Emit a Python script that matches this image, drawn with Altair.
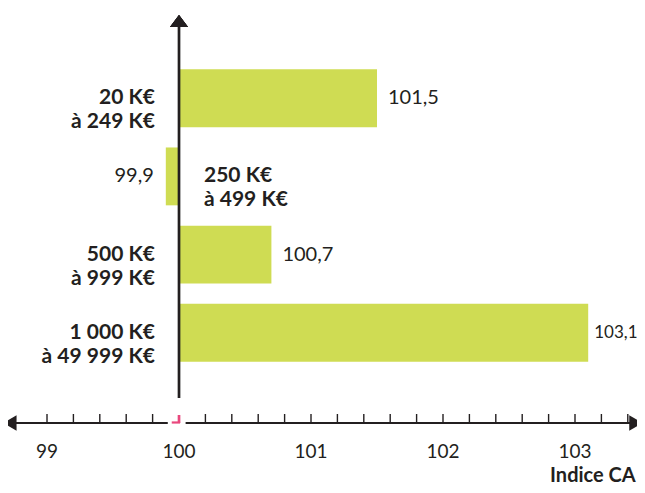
import altair as alt
import pandas as pd

# ---- data ----
categories = ["20 K€\nà 249 K€", "250 K€\nà 499 K€", "500 K€\nà 999 K€", "1 000 K€\nà 49 999 K€"]
values = [101.5, 99.9, 100.7, 103.1]
value_labels = ["101,5", "99,9", "100,7", "103,1"]
base_value = 100
tick_labels = [99, 100, 101, 102, 103]
tick_label_texts = ["99", "100", "101", "102", "103"]
minor_ticks = [99.0, 99.2, 99.4, 99.6, 99.8, 100.2, 100.4, 100.6, 100.8, 101.0,
               101.2, 101.4, 101.6, 101.8, 102.0, 102.2, 102.4, 102.6, 102.8,
               103.0, 103.2, 103.4]
axis_title = "Indice CA"
axis_min, axis_max = 98.72, 103.46
break_left, break_right = 99.915, 100.05

FONT = "Lato"
TXT = "#231f20"
BAR = "#cfdc53"
PINK = "#e9487d"

df = pd.DataFrame({"cat": categories, "value": values, "label": value_labels})

xscale = alt.Scale(domain=[98.7045, 103.4697], nice=False, zero=False)
yscale = alt.Scale(paddingInner=0.26, paddingOuter=0.7835)

ycat = alt.Y("cat:N", sort=categories, scale=yscale, axis=None)


def xd(v):
    return alt.XDatum(v, scale=xscale, axis=None)


bars = alt.Chart(df).mark_bar(color=BAR).encode(
    y=ycat,
    x=alt.X("value:Q", scale=xscale, axis=None),
    x2=alt.X2Datum(base_value),
)

val_pos = alt.Chart(df).transform_filter("datum.value >= 100 && datum.value < 103").mark_text(
    align="left", baseline="middle", dx=11, font=FONT, fontSize=20, color=TXT
).encode(y=ycat, x=alt.X("value:Q", scale=xscale, axis=None), text="label:N")

val_edge = alt.Chart(df).transform_filter("datum.value >= 103").mark_text(
    align="left", baseline="middle", dx=6, font=FONT, fontSize=17, color=TXT
).encode(y=ycat, x=alt.X("value:Q", scale=xscale, axis=None), text="label:N")

val_neg = alt.Chart(df).transform_filter("datum.value < 100").mark_text(
    align="right", baseline="middle", dx=-12, font=FONT, fontSize=20, color=TXT
).encode(y=ycat, x=alt.X("value:Q", scale=xscale, axis=None), text="label:N")

cat_pos = alt.Chart(df).transform_filter("datum.value >= 100").mark_text(
    align="right", baseline="middle", dx=-24, font=FONT, fontSize=21, fontWeight="bold",
    color=TXT, lineBreak="\n", lineHeight=24
).encode(y=ycat, x=xd(base_value), text="cat:N")

cat_neg = alt.Chart(df).transform_filter("datum.value < 100").mark_text(
    align="left", baseline="middle", dx=25, font=FONT, fontSize=21, fontWeight="bold",
    color=TXT, lineBreak="\n", lineHeight=24
).encode(y=ycat, x=xd(base_value), text="cat:N")

seg_df = pd.DataFrame({"x1": [axis_min, break_right], "x2": [break_left, axis_max]})
axis_line = alt.Chart(seg_df).mark_rule(color=TXT, strokeWidth=1.8).encode(
    x=alt.X("x1:Q", scale=xscale, axis=None), x2="x2:Q", y=alt.value(415)
)

tick_df = pd.DataFrame({"tk": minor_ticks})
ticks = alt.Chart(tick_df).mark_rule(color=TXT, strokeWidth=1.4).encode(
    x=alt.X("tk:Q", scale=xscale, axis=None), y=alt.value(406), y2=alt.value(415)
)

lab_df = pd.DataFrame({"v": tick_labels, "txt": tick_label_texts})
tick_text = alt.Chart(lab_df).mark_text(
    align="center", baseline="middle", font=FONT, fontSize=19, color=TXT
).encode(x=alt.X("v:Q", scale=xscale, axis=None), y=alt.value(444), text="txt:N")

title_df = pd.DataFrame({"ttl": [axis_title], "pos": [axis_max]})
title_text = alt.Chart(title_df).mark_text(
    align="right", baseline="middle", font=FONT, fontSize=20, fontWeight="bold",
    color=TXT, dx=0
).encode(x=alt.X("pos:Q", scale=xscale, axis=None), y=alt.value(468), text="ttl:N")

arrow_df = pd.DataFrame({"a": [axis_min]})
arrow_l = alt.Chart(arrow_df).mark_point(
    shape="M-1,0L1,-1.2L1,1.2Z", filled=True, opacity=1, color=TXT, size=169, dx=6.5
).encode(x=alt.X("a:Q", scale=xscale, axis=None), y=alt.value(415))
arrow_df2 = pd.DataFrame({"a": [axis_max]})
arrow_r = alt.Chart(arrow_df2).mark_point(
    shape="M1,0L-1,-1.2L-1,1.2Z", filled=True, opacity=1, color=TXT, size=169, dx=-6.5
).encode(x=alt.X("a:Q", scale=xscale, axis=None), y=alt.value(415))

vline = alt.Chart(df).mark_rule(color=TXT, strokeWidth=2.2).encode(
    x=xd(base_value), y=alt.value(18), y2=alt.value(390)
)
arrow_t = alt.Chart(df).mark_point(
    shape="M0,-0.67L1,0.67L-1,0.67Z", filled=True, opacity=1, color=TXT, size=324
).encode(x=xd(base_value), y=alt.value(13))

pink_v = alt.Chart(df).mark_rule(color=PINK, strokeWidth=2.2).encode(
    x=xd(base_value), y=alt.value(407), y2=alt.value(415)
)
pink_h = alt.Chart(pd.DataFrame({"p1": [99.945], "p2": [100.008]})).mark_rule(
    color=PINK, strokeWidth=2.2
).encode(x=alt.X("p1:Q", scale=xscale, axis=None), x2="p2:Q", y=alt.value(414.5))

chart = alt.layer(
    bars, val_pos, val_edge, val_neg, cat_pos, cat_neg, axis_line, ticks, tick_text,
    title_text, arrow_l, arrow_r, vline, arrow_t, pink_v, pink_h
).properties(
    width=629, height=415,
    autosize=alt.AutoSizeParams(type="none"),
    padding={"left": 0, "top": 0, "right": 0, "bottom": 62},
    background="white",
).configure_view(stroke=None)

chart.save("out.html", embed_options={"renderer": "svg", "actions": False})
